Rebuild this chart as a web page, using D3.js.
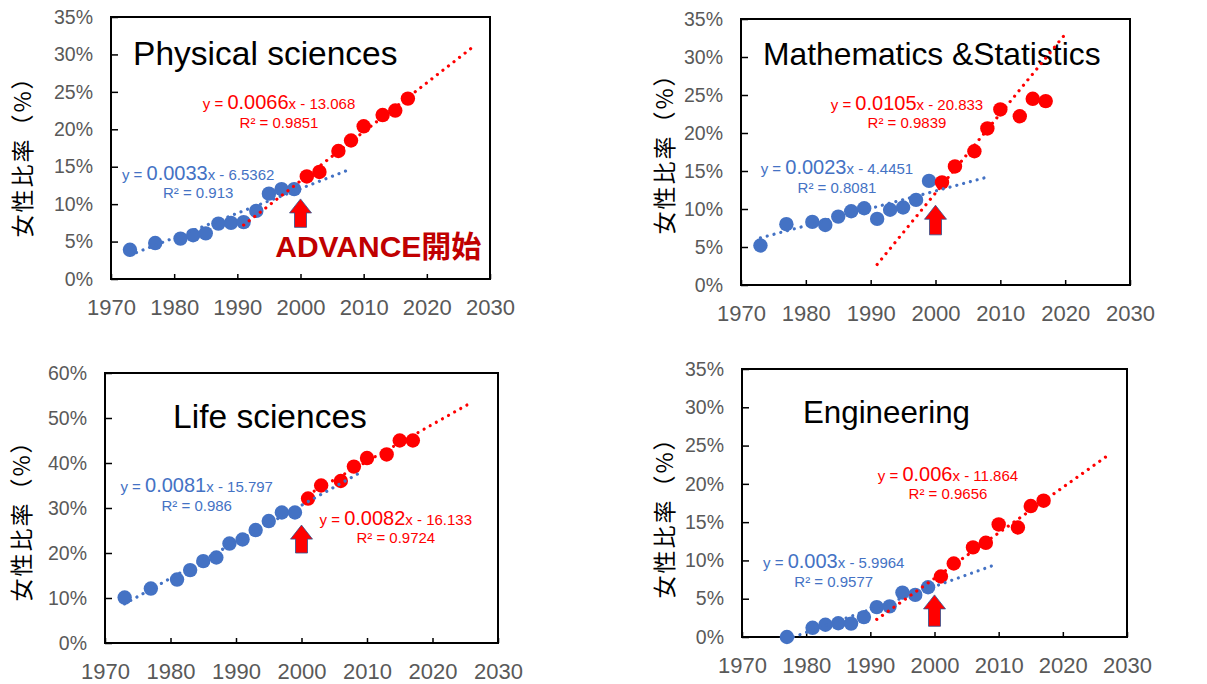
<!doctype html>
<html>
  <head>
    <meta charset="utf-8">
    <script src="https://cdnjs.cloudflare.com/ajax/libs/d3/7.8.5/d3.min.js"></script>
    <style>
      body { margin: 0; background: #fff; }
      text { font-family: "Liberation Sans", Arial, sans-serif; }
      text.ytitle { font-family: "Noto Sans CJK JP", sans-serif; }
    </style>
  </head>
  <body>
    <div id="viz"></div>
    <script>
      // years
      let yearsBlue = [1973, 1977, 1981, 1983, 1985, 1987, 1989, 1991, 1993, 1995, 1997, 1999];
      let yearsBlueEng = [1977, 1981, 1983, 1985, 1987, 1989, 1991, 1993, 1995, 1997, 1999];
      let yearsRed = [2001, 2003, 2006, 2008, 2010, 2013, 2015, 2017];

      // women share (%)
      let physBlue = [3.9, 4.8, 5.4, 5.85, 6.1, 7.4, 7.5, 7.6, 9.1, 11.4, 12.0, 12.0];
      let physRed = [13.7, 14.3, 17.1, 18.5, 20.4, 21.9, 22.5, 24.1];
      let mathBlue = [5.2, 8.0, 8.3, 7.9, 9.0, 9.7, 10.1, 8.7, 9.9, 10.2, 11.2, 13.7];
      let mathRed = [13.5, 15.6, 17.6, 20.6, 23.1, 22.2, 24.5, 24.2];
      let lifeBlue = [10.1, 12.1, 14.1, 16.2, 18.2, 19.0, 22.1, 23.0, 25.1, 27.1, 29.0, 29.0];
      let lifeRed = [32.1, 35.0, 36.0, 39.2, 41.1, 41.9, 45.0, 45.0];
      let engBlue = [0.0, 1.2, 1.6, 1.8, 1.75, 2.6, 3.9, 4.0, 5.8, 5.5, 6.5];
      let engRed = [7.9, 9.6, 11.7, 12.3, 14.7, 14.3, 17.1, 17.8];

      // trend line ends [year, %] as drawn in the picture
      let physBlueTrend = [[1973, 3.2], [2008, 14.7]];
      let physRedTrend = [[1991, 7.2], [2027, 30.8]];
      let mathBlueTrend = [[1973, 6.2], [2008, 14.2]];
      let mathRedTrend = [[1991, 2.7], [2020, 33.0]];
      let lifeBlueTrend = [[1973, 8.7], [2009, 37.9]];
      let lifeRedTrend = [[2001, 33.0], [2026, 53.5]];
      let engBlueTrend = [[1978, 0.0], [2009, 9.3]];
      let engRedTrend = [[1991, 2.3], [2027, 23.7]];

      let xTicks = [1970, 1980, 1990, 2000, 2010, 2020, 2030];

      const BLUE = "#4472C4", RED = "#FF0000";

      var panels = [
        { title: "Physical sciences", titleSize: 33.5, box: [111, 17, 490, 279], yMax: 35, yStep: 5, titleAt: [1973.5, 28.6],
          bx: yearsBlue, by: physBlue, rx: yearsRed, ry: physRed, bt: physBlueTrend, rt: physRedTrend,
          blueEq: ["0.0033", "x - 6.5362", "R² = 0.913", 1983.8, 13.2, 10.8],
          redEq: ["0.0066", "x - 13.068", "R² = 0.9851", 1996.6, 22.7, 20.2],
          arrow: [10.7, 6.9], advance: [1996.0, 2.9], ytitle: [23, 151] },
        { title: "Mathematics &Statistics", titleSize: 31.8, box: [741, 19, 1130, 285], yMax: 35, yStep: 5, titleAt: [1973.4, 28.9],
          bx: yearsBlue, by: mathBlue, rx: yearsRed, ry: mathRed, bt: mathBlueTrend, rt: mathRedTrend,
          blueEq: ["0.0023", "x - 4.4451", "R² = 0.8081", 1984.8, 14.6, 12.1],
          redEq: ["0.0105", "x - 20.833", "R² = 0.9839", 1995.6, 23.0, 20.7],
          arrow: [10.5, 6.6], ytitle: [665, 148] },
        { title: "Life sciences", titleSize: 33.5, box: [105, 373, 498, 643], yMax: 60, yStep: 10, titleAt: [1980.4, 47.8],
          bx: yearsBlue, by: lifeBlue, rx: yearsRed, ry: lifeRed, bt: lifeBlueTrend, rt: lifeRedTrend,
          blueEq: ["0.0081", "x - 15.797", "R² = 0.986", 1984.0, 33.6, 29.3],
          redEq: ["0.0082", "x - 16.133", "R² = 0.9724", 2014.4, 26.2, 22.2],
          arrow: [26.2, 20.0], ytitle: [22, 515] },
        { title: "Engineering", titleSize: 31.3, box: [742, 369, 1127, 637], yMax: 35, yStep: 5, titleAt: [1979.5, 27.9],
          bx: yearsBlueEng, by: engBlue, rx: yearsRed, ry: engRed, bt: engBlueTrend, rt: engRedTrend,
          blueEq: ["0.003", "x - 5.9964", "R² = 0.9577", 1984.3, 9.0, 6.5],
          redEq: ["0.006", "x - 11.864", "R² = 0.9656", 2002.1, 20.4, 18.0],
          arrow: [5.5, 1.4], ytitle: [665, 512] }
      ];

      var svg = d3.select("#viz").append("svg").attr("width", 1207).attr("height", 684);

      function equation(g, x, y, eq, color) {
        var t = g.append("text").attr("x", x(eq[3])).attr("y", y(eq[4]))
          .attr("text-anchor", "middle").attr("fill", color).style("font-size", "15px");
        t.append("tspan").text("y = ");
        t.append("tspan").style("font-size", "20px").text(eq[0]);
        t.append("tspan").text(eq[1]);
        g.append("text").attr("x", x(eq[3])).attr("y", y(eq[5]))
          .attr("text-anchor", "middle").attr("fill", color).style("font-size", "15px").text(eq[2]);
      }

      panels.forEach(p => {
        var [l, t, r, b] = p.box;
        var x = d3.scaleLinear().domain([1970, 2030]).range([l, r]);
        var y = d3.scaleLinear().domain([0, p.yMax]).range([b, t]);
        var g = svg.append("g");

        var ya = g.append("g").attr("transform", "translate(" + l + ",0)")
          .call(d3.axisLeft(y).tickValues(d3.range(0, p.yMax + 1, p.yStep)).tickFormat(d => d + "%")
            .tickSizeInner(-7).tickSizeOuter(0).tickPadding(18));
        ya.select(".domain").remove();
        ya.selectAll("line").attr("stroke", "#000").attr("stroke-width", 1.5);
        ya.selectAll("text").style("font-size", "19.5px").attr("fill", "#595959")
          .style("font-family", "'Liberation Sans', Arial, sans-serif");

        var xa = g.append("g").attr("transform", "translate(0," + b + ")")
          .call(d3.axisBottom(x).tickValues(xTicks).tickFormat(d3.format("d"))
            .tickSizeInner(-5).tickSizeOuter(0).tickPadding(20));
        xa.select(".domain").remove();
        xa.selectAll("line").attr("stroke", "#000").attr("stroke-width", 1.5);
        xa.selectAll("text").style("font-size", "22px").attr("fill", "#595959")
          .style("font-family", "'Liberation Sans', Arial, sans-serif");

        g.append("rect").attr("x", l).attr("y", t).attr("width", r - l).attr("height", b - t)
          .attr("fill", "none").attr("stroke", "#000").attr("stroke-width", 2);

        g.append("text").attr("class", "ytitle")
          .attr("transform", "translate(" + p.ytitle[0] + "," + p.ytitle[1] + ") rotate(-90)")
          .attr("text-anchor", "middle").attr("dy", "0.35em")
          .style("font-size", "23px").style("letter-spacing", "2px").attr("fill", "#000")
          .text("女性比率（%）");

        g.append("text").attr("x", x(p.titleAt[0])).attr("y", y(p.titleAt[1]))
          .style("font-size", p.titleSize + "px").attr("fill", "#000").text(p.title);

        g.selectAll("circle.blue").data(p.bx).enter().append("circle").attr("class", "blue")
          .attr("cx", d => x(d)).attr("cy", (d, i) => y(p.by[i])).attr("r", 7.2).attr("fill", BLUE);
        g.selectAll("circle.red").data(p.rx).enter().append("circle").attr("class", "red")
          .attr("cx", d => x(d)).attr("cy", (d, i) => y(p.ry[i])).attr("r", 7.2).attr("fill", RED);

        var line = d3.line().x(d => x(d[0])).y(d => y(d[1]));
        g.append("path").attr("d", line(p.bt))
          .attr("stroke", BLUE).attr("stroke-width", 3.2).attr("fill", "none")
          .attr("stroke-linecap", "round").attr("stroke-dasharray", "0.01 7");
        g.append("path").attr("d", line(p.rt))
          .attr("stroke", RED).attr("stroke-width", 3.2).attr("fill", "none")
          .attr("stroke-linecap", "round").attr("stroke-dasharray", "0.01 7");

        equation(g, x, y, p.blueEq, BLUE);
        equation(g, x, y, p.redEq, RED);

        // ADVANCE start arrow at 2000
        var ax = x(2000), tip = y(p.arrow[0]), bot = y(p.arrow[1]), hh = 14;
        g.append("path")
          .attr("d", "M" + ax + "," + tip + " L" + (ax + 11) + "," + (tip + hh) + " L" + (ax + 6) + "," + (tip + hh) +
            " L" + (ax + 6) + "," + bot + " L" + (ax - 6) + "," + bot + " L" + (ax - 6) + "," + (tip + hh) +
            " L" + (ax - 11) + "," + (tip + hh) + "Z")
          .attr("fill", RED).attr("stroke", "#2F528F").attr("stroke-width", 0.8);

        if (p.advance) {
          g.append("text").attr("x", x(p.advance[0])).attr("y", y(p.advance[1]))
            .style("font-size", "30px").style("font-weight", "bold").attr("fill", "#C00000")
            .style("font-family", "'Liberation Sans', 'Noto Sans CJK JP', sans-serif")
            .text("ADVANCE開始");
        }
      });
    </script>
  </body>
</html>
